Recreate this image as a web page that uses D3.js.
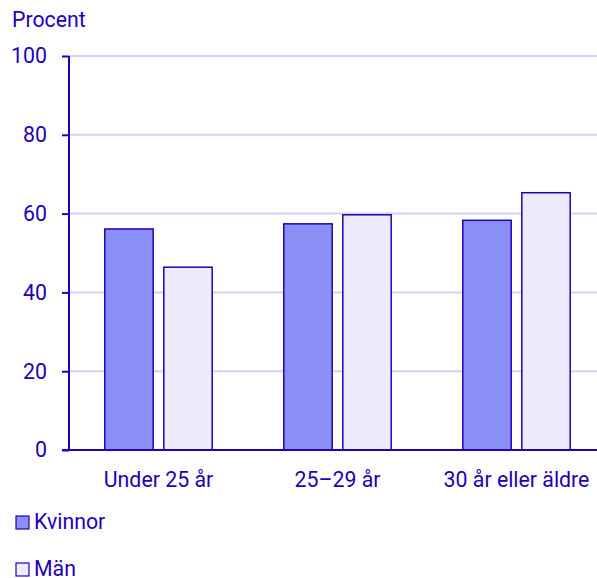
<!DOCTYPE html>
<html>
<head>
<meta charset="utf-8">
<script src="https://cdn.jsdelivr.net/npm/d3@7"></script>
<style>
  body { margin: 0; background: #fff; }
  text { font-family: Roboto, sans-serif; }
</style>
</head>
<body>
<script>
const categories = ['Under 25 år', '25\u201329 år', '30 år eller äldre'];
const seriesNames = ['Kvinnor', 'Män'];
const kvinnor = [56.1, 57.4, 58.3];
const man = [46.4, 59.7, 65.3];
const yTicks = [0, 20, 40, 60, 80, 100];

const width = 597;
const height = 578;
const ink = '#2200b8';
const colors = ['#8c8ff5', '#ececfc'];
const fontSize = '21.3px';

const svg = d3.select('body').append('svg')
  .attr('width', width)
  .attr('height', height);

const y = d3.scaleLinear().domain([0, 100]).range([450, 56]);
const x = d3.scaleBand().domain(categories).range([69, 606]).paddingInner(0.4).paddingOuter(0.2);
const xInner = d3.scaleBand().domain(seriesNames).range([0, x.bandwidth()]).paddingInner(0.18);

// gridlines
svg.append('g')
  .selectAll('line')
  .data(yTicks.filter((d) => d > 0))
  .join('line')
  .attr('x1', 69)
  .attr('x2', width)
  .attr('y1', (d) => y(d))
  .attr('y2', (d) => y(d))
  .attr('stroke', '#d2d2f2')
  .attr('stroke-width', 2);

const rows = categories.map((c, i) => ({cat: c, values: [kvinnor[i], man[i]]}));

svg.append('g')
  .selectAll('g')
  .data(rows)
  .join('g')
  .attr('transform', (d) => `translate(${x(d.cat)},0)`)
  .selectAll('rect')
  .data((d) => d.values.map((v, i) => ({name: seriesNames[i], v, i})))
  .join('rect')
  .attr('x', (d) => xInner(d.name))
  .attr('y', (d) => y(d.v))
  .attr('width', xInner.bandwidth())
  .attr('height', (d) => y(0) - y(d.v))
  .attr('fill', (d) => colors[d.i])
  .attr('stroke', ink)
  .attr('stroke-width', 1.5);

// y axis
const yAxis = svg.append('g')
  .attr('transform', 'translate(69,0)')
  .call(d3.axisLeft(y).tickValues(yTicks).tickSize(7).tickPadding(15));
yAxis.select('.domain').attr('stroke', ink).attr('stroke-width', 2).attr('d', `M0,${y(100)}V${y(0)}`);
yAxis.selectAll('.tick line').attr('stroke', ink).attr('stroke-width', 2);
yAxis.selectAll('.tick text')
  .attr('fill', ink)
  .style('font-size', fontSize)
  .style('font-family', 'Roboto, sans-serif');

// x axis
svg.append('line')
  .attr('x1', 62)
  .attr('x2', width)
  .attr('y1', y(0))
  .attr('y2', y(0))
  .attr('stroke', ink)
  .attr('stroke-width', 2);

svg.append('g')
  .selectAll('text')
  .data(categories)
  .join('text')
  .attr('x', (d) => x(d) + x.bandwidth() / 2)
  .attr('y', 487)
  .attr('text-anchor', 'middle')
  .attr('fill', ink)
  .style('font-size', fontSize)
  .text((d) => d);

svg.append('text')
  .attr('x', 12)
  .attr('y', 27)
  .attr('fill', ink)
  .style('font-size', fontSize)
  .text('Procent');

// legend
const legend = svg.append('g')
  .selectAll('g')
  .data(seriesNames)
  .join('g')
  .attr('transform', (d, i) => `translate(16,${516 + i * 47})`);

legend.append('rect')
  .attr('width', 13)
  .attr('height', 13)
  .attr('fill', (d, i) => colors[i])
  .attr('stroke', ink)
  .attr('stroke-width', 1.2);

legend.append('text')
  .attr('x', 18)
  .attr('y', 13)
  .attr('fill', ink)
  .style('font-size', fontSize)
  .text((d) => d);
</script>
</body>
</html>
